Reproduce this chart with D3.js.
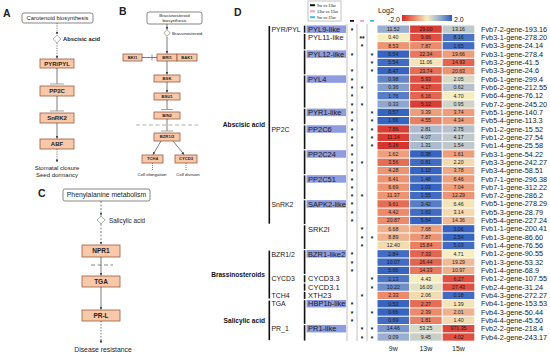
<!DOCTYPE html>
<html><head><meta charset="utf-8">
<script src="https://cdn.jsdelivr.net/npm/d3@7"></script>
<style>body{margin:0;background:#fff} text{font-family:"Liberation Sans",Arial,sans-serif}</style>
</head><body><svg id="c" width="550" height="355"></svg>
<script>
// ---------------- DATA ----------------
const genes = ["Fvb7-2-gene-193.16","Fvb3-1-gene-278.20","Fvb3-3-gene-24.14","Fvb3-1-gene-278.4","Fvb3-2-gene-41.5","Fvb3-3-gene-24.6","Fvb6-1-gene-299.4","Fvb6-2-gene-212.55","Fvb6-4-gene-76.12","Fvb7-2-gene-245.20","Fvb5-1-gene-140.7","Fvb5-4-gene-113.3","Fvb1-2-gene-15.52","Fvb1-2-gene-27.54","Fvb1-4-gene-25.58","Fvb3-1-gene-54.22","Fvb3-3-gene-242.27","Fvb3-4-gene-58.51","Fvb7-1-gene-296.38","Fvb7-1-gene-312.22","Fvb7-2-gene-286.2","Fvb5-1-gene-278.29","Fvb5-3-gene-28.79","Fvb5-4-gene-227.24","Fvb1-1-gene-200.41","Fvb1-3-gene-86.60","Fvb1-4-gene-76.56","Fvb1-2-gene-90.55","Fvb1-3-gene-53.32","Fvb1-4-gene-68.9","Fvb1-2-gene-107.55","Fvb2-4-gene-31.24","Fvb4-3-gene-272.27","Fvb4-1-gene-153.53","Fvb4-3-gene-50.44","Fvb4-4-gene-45.50","Fvb2-2-gene-218.4","Fvb4-2-gene-243.17"];
const columns = ["9w","13w","15w"];
const val9w  = ["11.52","0.40","8.53","6.54","5.54","8.47","0.98","0.36","1.76","0.33","0.57","1.66","7.86","11.14","5.16","1.62","3.56","4.28","6.41","6.69","11.37","9.61","4.42","20.87","6.68","8.89","12.40","2.84","10.07","5.66","2.13","10.22","2.33","0.53","0.66","0.69","14.46","0.09"];
const val13w = ["29.00","9.66","7.87","22.34","11.06","23.74","5.93","4.17","6.16","5.12","3.39","4.55","2.81","4.07","1.31","0.38","0.81","1.10","1.48","1.03","1.55","3.42","1.63","5.64","7.68","7.87","15.84","7.33","26.44","14.33","4.43","16.00","2.06","2.27","2.39","1.81","53.25","9.45"];
const val15w = ["13.16","8.16","1.65","19.66","14.93","20.63","2.05","0.62","4.70","0.95","3.74","4.34","2.75","4.17","1.54","1.61","2.20","3.78","6.46","7.04","12.29","6.46","3.14","14.36","3.06","2.54","5.03","4.71","19.29","10.97","6.27","27.43","0.18","1.39","2.01","1.40","971.35","4.02"];
// colour values (Log2 scale)
const log9w  = [1.0,0.0,-0.9,1.9,1.8,1.9,1.5,1.2,1.6,1.1,1.9,1.9,-1.8,-1.8,-1.9,-0.8,-1.3,-0.9,-0.9,-0.9,-0.9,-1.3,-1.0,-1.0,-0.6,-0.6,-0.2,1.8,1.8,1.9,1.7,1.4,-1.0,1.9,1.9,1.8,1.3,1.0];
const log13w = [-1.8,-1.6,-1.0,-1.2,-0.1,-1.3,-1.6,-1.6,-1.4,-1.8,-0.8,-1.1,0.8,0.8,0.8,1.9,1.8,1.9,1.8,1.9,1.8,1.6,1.8,1.9,-0.8,-0.9,-1.1,-1.4,-1.4,-1.2,0.0,0.2,-0.2,-1.3,-1.0,-1.1,0.3,0.5];
const log15w = [0.6,1.7,1.8,-0.8,-1.4,-0.9,0.3,0.7,0.0,0.4,-0.8,-0.8,0.7,0.6,0.6,-0.8,-0.2,-0.7,-0.8,-0.8,-0.9,-0.1,-0.2,-0.5,1.9,1.9,1.8,0.0,-0.5,-0.6,-1.6,-1.6,1.8,-0.1,-0.6,-0.2,-1.7,-1.6];
// significance marks
const sig9v13  = ["*","","","*","","*","*","*","*","*","*","*","*","*","*","*","*","*","*","*","*","*","*","*","","","","*","*","*","","","","*","*","*","",""];
const sig13v15 = ["","**","*","","","","","*","","*","","","","","","","*","","","","*","","","","*","*","*","","","","","","*","","","","*","*"];
const sig9v15  = ["","","","*","*","*","","","","","*","*","*","*","*","","","","","","","","","","","*","","","","","*","*","","","*","","*","*"];
const sigNames = ["9w vs 13w","13w vs 15w","9w vs 15w"];
// gene groups: [label, firstRow, lastRow, highlighted]
const geneGroups = [["PYL9-like",0,0,1],["PYL11-like",1,2,0],["PYL12-like",3,5,1],["PYL4",6,9,1],["PYR1-like",10,11,1],["PP2C6",12,14,1],["PP2C24",15,17,1],["PP2C51",18,20,1],["SAPK2-like",21,23,1],["SRK2I",24,26,0],["BZR1-like2",27,29,1],["CYCD3.3",30,30,0],["CYCD3.1",31,31,0],["XTH23",32,32,0],["HBP1b-like",33,35,1],["PR1-like",36,37,1]];
const families = [["PYR/PYL",0,11],["PP2C",12,20],["SnRK2",21,26],["BZR1/2",27,29],["CYCD3",30,31],["TCH4",32,32],["TGA",33,35],["PR_1",36,37]];
const pathways = [["Abscisic acid",0,23],["Brassinosteroids",27,32],["Salicylic acid",33,37]];
const legendTicks = [-2.0, 2.0];

// ---------------- DRAW ----------------
const svg = d3.select("#c");
const defs = svg.append("defs");
defs.append("marker").attr("id","ah").attr("viewBox","0 0 10 10").attr("refX",9).attr("refY",5)
  .attr("markerWidth",4).attr("markerHeight",4).attr("orient","auto")
  .append("path").attr("d","M0,0L10,5L0,10z").attr("fill","#444");

// heatmap scales
const hTop = 25, rowH = 8.32, hx0 = 377, colW = 32.6;
const y = d3.scaleBand().domain(d3.range(genes.length)).range([hTop, hTop + rowH*genes.length]);
const x = d3.scaleBand().domain(columns).range([hx0, hx0 + colW*3]);
const color = d3.scaleLinear().domain([-2,-1,0,1,2]).range(["#d62a26","#ec8a6a","#f6eec0","#9aaed0","#2b5cbf"]).clamp(true);
const vals = [val9w, val13w, val15w], logs = [log9w, log13w, log15w];

const cells = [];
genes.forEach((g,i)=>columns.forEach((c,j)=>cells.push({i,c,v:vals[j][i],l:logs[j][i]})));
const hm = svg.append("g");
hm.selectAll("rect").data(cells).join("rect")
  .attr("x",d=>x(d.c)+0.5).attr("y",d=>y(d.i)+0.5)
  .attr("width",x.bandwidth()-1).attr("height",y.bandwidth()-1)
  .attr("fill",d=>color(d.l));
hm.selectAll("text").data(cells).join("text")
  .attr("x",d=>x(d.c)+x.bandwidth()/2).attr("y",d=>y(d.i)+y.bandwidth()/2+1.8)
  .attr("text-anchor","middle").attr("font-size",5.2).attr("fill","#1a1a1a").text(d=>d.v);

// column labels
svg.append("g").selectAll("text").data(columns).join("text")
  .attr("x",d=>x(d)+x.bandwidth()/2).attr("y",351).attr("text-anchor","middle")
  .attr("font-size",7).attr("fill","#222").text(d=>d);

// gene labels
svg.append("g").selectAll("text").data(genes).join("text")
  .attr("x",481).attr("y",(d,i)=>y(i)+y.bandwidth()/2+2.6).attr("font-size",7.3).attr("fill","#1a1a1a").text(d=>d);

// significance columns
const sx = d3.scalePoint().domain(sigNames).range([352,372]);
const sigCols = ["#111","#f2a3bf","#3fbfe6"];
[347,357,367].forEach(xx=>svg.append("line").attr("x1",xx).attr("x2",xx).attr("y1",24).attr("y2",341).attr("stroke","#b0b0b0").attr("stroke-width",0.8));
sigNames.forEach((n,k)=>{
  svg.append("rect").attr("x",sx(n)-2).attr("y",20).attr("width",4).attr("height",1.8).attr("fill",sigCols[k]);
});
[sig9v13,sig13v15,sig9v15].forEach((arr,k)=>{
  svg.append("g").selectAll("text").data(arr).join("text")
    .attr("x",sx(sigNames[k])).attr("y",(d,i)=>y(i)+y.bandwidth()/2+3.6)
    .attr("text-anchor","middle").attr("font-size",6.5).attr("font-weight","bold").attr("fill","#111").text(d=>d);
});
// sig legend box
svg.append("rect").attr("x",308).attr("y",1).attr("width",33).attr("height",20).attr("fill","#fff").attr("stroke","#999").attr("stroke-width",0.6);
sigNames.forEach((n,k)=>{
  svg.append("rect").attr("x",310).attr("y",4.2+k*6).attr("width",5).attr("height",2).attr("fill",sigCols[k]);
  svg.append("text").attr("x",317).attr("y",6.8+k*6).attr("font-size",4).attr("fill","#222").text(n);
});

// colour legend
const grad = defs.append("linearGradient").attr("id","lg");
d3.range(0,1.001,0.1).forEach(t=>grad.append("stop").attr("offset",t).attr("stop-color",color(-2+4*t)));
const lx = d3.scaleLinear().domain([-2,2]).range([402,452]);
svg.append("rect").attr("x",lx(-2)).attr("y",15).attr("width",lx(2)-lx(-2)).attr("height",6).attr("fill","url(#lg)");
svg.append("text").attr("x",378).attr("y",12.5).attr("font-size",7.2).attr("fill","#222").text("Log2");
svg.append("text").attr("x",lx(-2)-2).attr("y",21.5).attr("text-anchor","end").attr("font-size",7).attr("fill","#222").text(legendTicks[0].toFixed(1));
svg.append("text").attr("x",lx(2)+2).attr("y",21.5).attr("font-size",7).attr("fill","#222").text(legendTicks[1].toFixed(1));

// gene groups
const gg = svg.append("g");
geneGroups.forEach(([n,a,b,h])=>{
  gg.append("rect").attr("x",303.8).attr("y",y(a)+0.6).attr("width",1.6).attr("height",y(b)+rowH-y(a)-1.2).attr("fill","#111");
  if(h) gg.append("rect").attr("x",306.5).attr("y",y(a)+0.4).attr("width",39.5).attr("height",rowH-0.8).attr("fill","#8f9de0");
  gg.append("text").attr("x",308).attr("y",y(a)+rowH/2+2.7).attr("font-size",7.5).attr("fill","#1a1a1a").text(n);
});
families.forEach(([n,a,b])=>{
  gg.append("text").attr("x",271.5).attr("y",y(a)+rowH/2+2.7).attr("font-size",6.9).attr("fill","#1a1a1a").text(n);
});
pathways.forEach(([n,a,b])=>{
  gg.append("rect").attr("x",268.5).attr("y",y(a)+1).attr("width",1.6).attr("height",y(b)+rowH-y(a)-2).attr("fill","#111");
  gg.append("text").attr("x",265).attr("y",(y(a)+y(b)+rowH)/2+2.3).attr("text-anchor","end").attr("font-size",6.6).attr("font-weight","bold").attr("fill","#111").text(n);
});

// ---------------- PATHWAY DIAGRAMS ----------------
const P = svg.append("g");
function line(x1,y1,x2,y2,o={}){
  const l=P.append("line").attr("x1",x1).attr("y1",y1).attr("x2",x2).attr("y2",y2).attr("stroke",o.c||"#444").attr("stroke-width",o.w||0.7);
  if(o.dash) l.attr("stroke-dasharray",o.dash);
  if(o.arrow) l.attr("marker-end","url(#ah)");
  return l;
}
function box(x0,y0,w,h,t,o={}){
  P.append("rect").attr("x",x0).attr("y",y0).attr("width",w).attr("height",h)
   .attr("rx",o.white?2:0).attr("fill",o.white?"#fff":"#f8c8a8").attr("stroke",o.white?"#555":"#9a5a40").attr("stroke-width",o.white?0.7:0.8);
  const lines = Array.isArray(t)?t:[t];
  lines.forEach((s,k)=>P.append("text").attr("x",x0+w/2).attr("y",y0+h/2+(o.fs||6)*0.35+(k-(lines.length-1)/2)*(o.fs||6)*1.05)
    .attr("text-anchor","middle").attr("font-size",o.fs||6).attr("font-weight",o.white?"normal":"bold").attr("fill","#222").text(s));
}
function diamond(cx,cy,r){
  P.append("path").attr("d",`M${cx},${cy-r}L${cx+r},${cy}L${cx},${cy+r}L${cx-r},${cy}Z`).attr("fill","#fff").attr("stroke","#888").attr("stroke-width",0.7);
}
function tbar(cx,cy,half){ line(cx-half,cy,cx+half,cy,{c:"#999",w:0.9}); }
function label(x0,y0,t,fs,o={}){
  P.append("text").attr("x",x0).attr("y",y0).attr("font-size",fs).attr("text-anchor",o.anchor||"start").attr("font-weight",o.bold?"bold":"normal").attr("fill",o.c||"#222").text(t);
}
// panel letters
label(3,17,"A",10.5,{bold:true}); label(119,15,"B",10.5,{bold:true}); label(38,197,"C",10.5,{bold:true}); label(234,16,"D",10.5,{bold:true});

// Panel A
const ax=57;
box(22,13,71,10,"Carotenoid biosynthesis",{white:true,fs:5.8});
line(ax,23,ax,34.5,{dash:"1.2,1.2",arrow:true});
diamond(ax,39,3.8);
label(ax+6,41,"Abscisic acid",5.8,{bold:true});
line(ax,43,ax,58.5,{dash:"1.2,1.2",arrow:true});
box(40,59,34,9,"PYR/PYL");
line(ax,68,ax,84); tbar(ax,84,7);
box(40,86,34,10,"PP2C");
line(ax,96,ax,111); tbar(ax,111,7);
box(40,113,34,10,"SnRK2");
line(ax,123,ax,138.5,{arrow:true});
box(40,139,34,10,"ABF");
line(ax,149,ax,162,{dash:"1.2,1.2",arrow:true});
label(ax,170,"Stomatal closure",6,{anchor:"middle"});
label(ax,177,"Seed dormancy",6,{anchor:"middle"});

// Panel B
const bx=167;
box(147,12,55,12,["Brassinosteroid","biosynthesis"],{white:true,fs:4.4});
line(bx,24,bx,29.5,{arrow:true});
diamond(bx,33,3.2);
label(bx+5,35,"Brassinosteroid",4.4);
line(bx,36.5,bx,53.5,{arrow:true});
box(157,54,20,7,"BRI1",{fs:4.2}); box(177,54,20,7,"BAK1",{fs:4.2});
box(123,54,19,7,"BKI1",{fs:4.2});
line(142,57.5,157,57.5); line(152,54.5,152,60.5,{c:"#777",w:0.8});
line(bx,61,bx,74.5,{arrow:true});
box(154,75,26,7,"BSK",{fs:4.2});
line(bx,82,bx,92.5,{arrow:true});
box(154,93,26,7,"BSU1",{fs:4.2});
line(bx,100,bx,109.5); tbar(bx,109.5,6);
box(154,112,26,7,"BIN2",{fs:4.2});
line(136,125,198,125,{c:"#999",dash:"4,2.5",w:0.8});
line(bx,119,bx,131); tbar(bx,131,6);
box(154,133,26,8,"BZR1/2",{fs:4.2});
line(161,141,153,154.5,{arrow:true});
line(173,141,184,154.5,{arrow:true});
box(142,155,21,8,"TCH4",{fs:4.2});
box(175,155,22,8,"CYCD3",{fs:4.2});
line(152.5,163,152.5,170,{dash:"1,1"});
line(186,163,186,170,{dash:"1,1"});
label(152,176,"Cell elongation",4.4,{anchor:"middle"});
label(188,176,"Cell division",4.4,{anchor:"middle"});

// Panel C
const cx=101;
box(63,189,87,12,"Phenylalanine metabolism",{white:true,fs:6.8});
line(cx,201,cx,215.5,{dash:"2,1.5",arrow:true});
diamond(cx,220,4);
label(cx+8,222.5,"Salicylic acid",6.3);
line(cx,224,cx,244.5,{dash:"2,1.5",arrow:true});
box(82,245,38,12,"NPR1",{fs:6.5});
line(91,265,113,265,{c:"#666",dash:"4,2.5",w:0.8});
line(cx,257,cx,275.5,{arrow:true});
box(82,276,38,11,"TGA",{fs:6.5});
line(cx,287,cx,309.5,{arrow:true});
box(82,310,38,11,"PR-L",{fs:6.5});
line(cx,321,cx,343,{dash:"1.5,1.5",arrow:true});
label(103,352,"Disease resistance",6.8,{anchor:"middle"});
</script></body></html>
